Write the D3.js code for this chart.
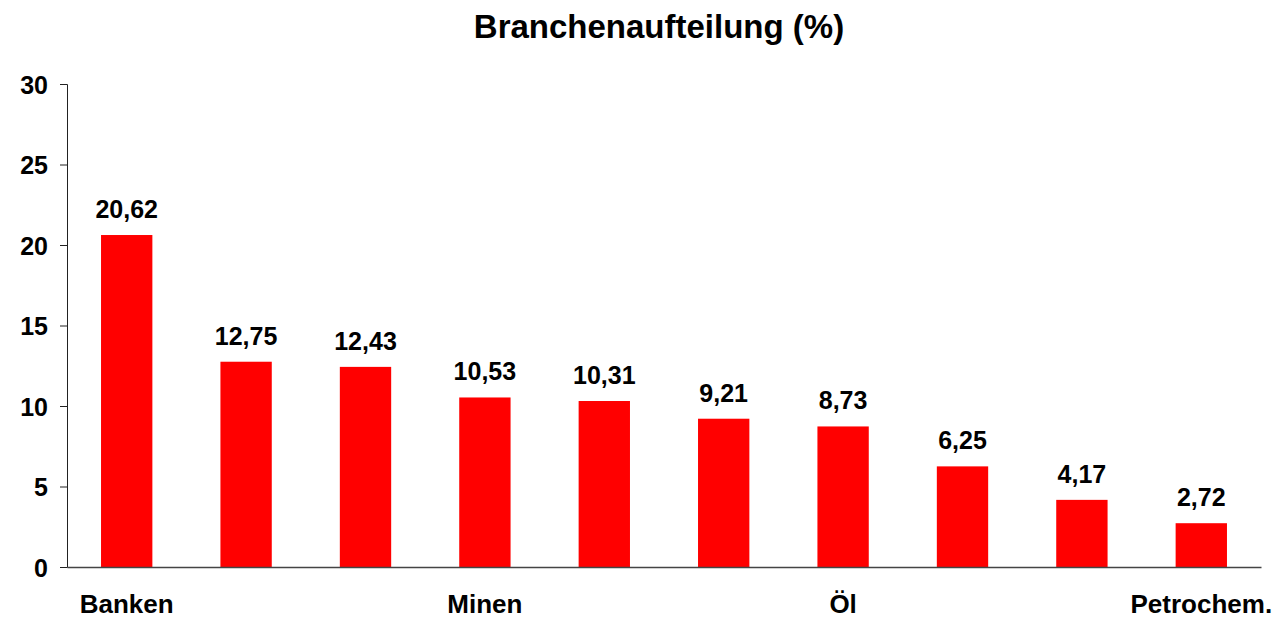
<!DOCTYPE html>
<html>
<head>
<meta charset="utf-8">
<script src="https://cdn.jsdelivr.net/npm/d3@7"></script>
<style>
  body { margin: 0; background: #fff; }
  text { font-family: "Liberation Sans", Arial, sans-serif; font-weight: bold; fill: #000; }
</style>
</head>
<body>
<div id="chart-container"></div>
<script>
const width = 1286;
const height = 617;
const margin = {top: 84, right: 25, bottom: 50, left: 67};

const titleText = "Branchenaufteilung (%)";

// only every third category name is printed on the axis
const categories = ["Banken", "", "", "Minen", "", "", "Öl", "", "", "Petrochem."];
const values = [20.62, 12.75, 12.43, 10.53, 10.31, 9.21, 8.73, 6.25, 4.17, 2.72];
const yTicks = [0, 5, 10, 15, 20, 25, 30];

const data = values.map((v, i) => ({idx: i, name: categories[i], value: v}));

var svg = d3.select("#chart-container")
    .append("svg")
    .attr("width", width)
    .attr("height", height);

var xScale = d3.scaleBand()
    .domain(data.map(d => d.idx))
    .range([margin.left, width - margin.right])
    .paddingInner(0.57)
    .paddingOuter(0.285);

var yScale = d3.scaleLinear()
    .domain([0, 30])
    .range([height - margin.bottom, margin.top]);

// Title
svg.append("text")
    .attr("x", 659)
    .attr("y", 38)
    .attr("text-anchor", "middle")
    .style("font-size", "33px")
    .text(titleText);

// Bars
svg.append("g")
    .selectAll("rect")
    .data(data)
    .join("rect")
    .attr("x", d => xScale(d.idx))
    .attr("y", d => yScale(d.value))
    .attr("width", xScale.bandwidth())
    .attr("height", d => yScale(0) - yScale(d.value))
    .attr("fill", "#ff0000");

// Value labels
svg.append("g")
    .selectAll("text")
    .data(data)
    .join("text")
    .attr("x", d => xScale(d.idx) + xScale.bandwidth() / 2)
    .attr("y", d => yScale(d.value) - 17)
    .attr("text-anchor", "middle")
    .style("font-size", "25px")
    .text(d => d3.format(".2f")(d.value).replace(".", ","));

// y axis
var yAxis = svg.append("g")
    .attr("transform", `translate(${margin.left}, 0)`)
    .call(d3.axisLeft(yScale).tickValues(yTicks).tickSize(7).tickPadding(12));
yAxis.select(".domain").attr("stroke", "#222");
yAxis.selectAll(".tick line").attr("stroke", "#222");
yAxis.selectAll(".tick text")
    .style("font-size", "25px")
    .style("font-family", "Liberation Sans, Arial, sans-serif")
    .style("font-weight", "bold")
    .attr("fill", "#000")
    .attr("dy", "0.36em");

// x axis
var xAxis = svg.append("g")
    .attr("transform", `translate(0, ${yScale(0)})`)
    .call(d3.axisBottom(xScale).tickSize(0).tickPadding(26)
        .tickFormat(i => categories[i]));
xAxis.select(".domain").attr("stroke", "#444").attr("stroke-width", 1.5);
xAxis.selectAll(".tick text")
    .style("font-size", "26px")
    .style("font-family", "Liberation Sans, Arial, sans-serif")
    .style("font-weight", "bold")
    .attr("fill", "#000")
    .attr("dy", "0.75em");
</script>
</body>
</html>
